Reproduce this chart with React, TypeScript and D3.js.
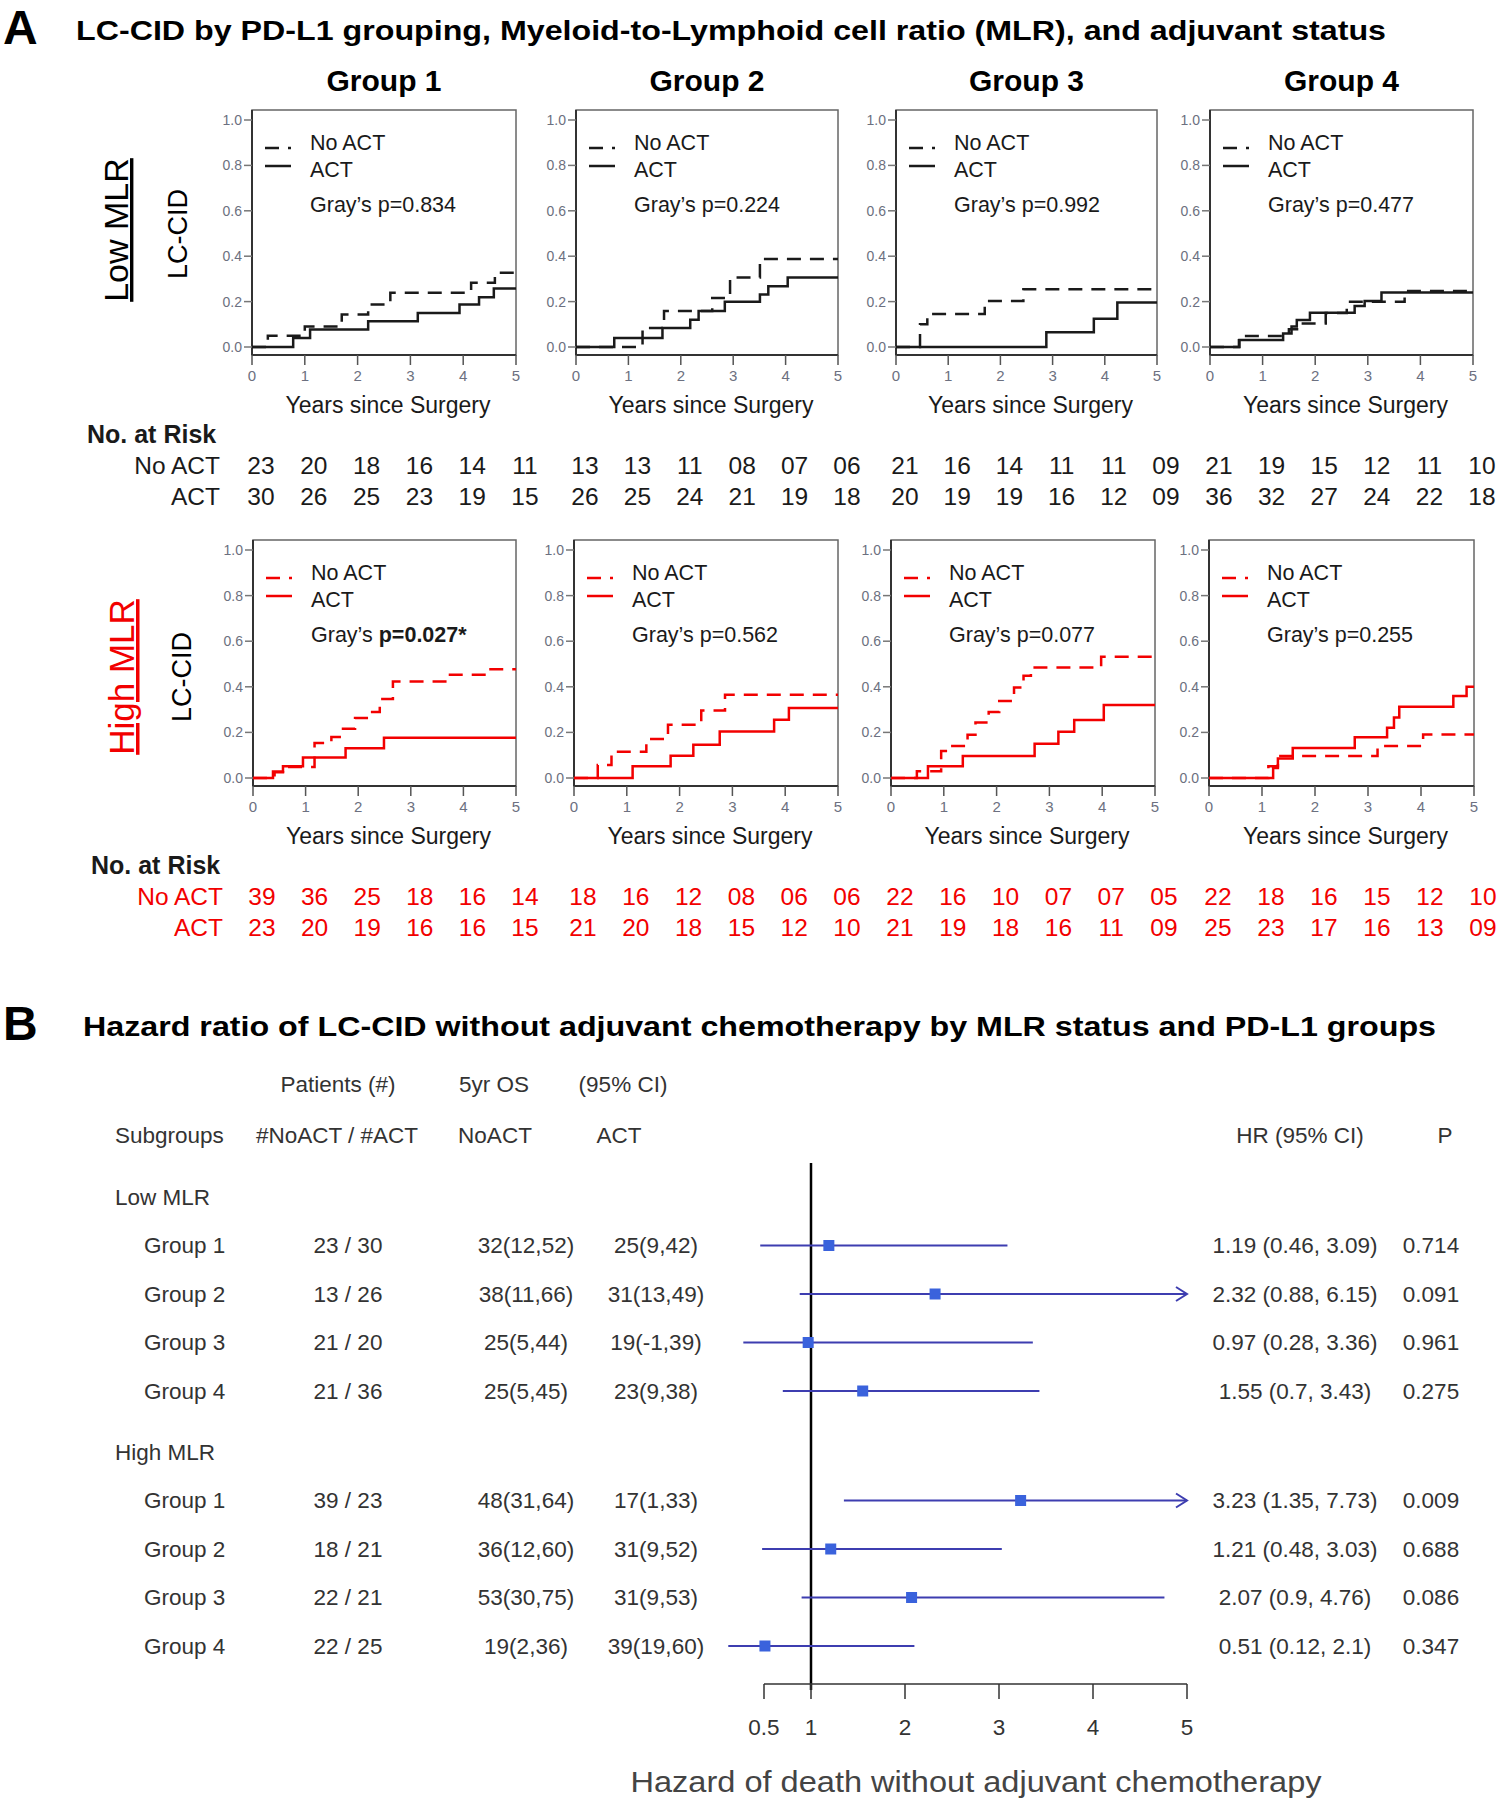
import * as d3 from 'd3';

type Pt = [number, number];

const FONT = '"Liberation Sans", Arial, Helvetica, sans-serif';
const RED = '#f20000';
const INK = '#1a1a1a';

const groups = ['Group 1', 'Group 2', 'Group 3', 'Group 4'];
const years = [0, 1, 2, 3, 4, 5];
const cidTicks = [0, 0.2, 0.4, 0.6, 0.8, 1.0];

// Low MLR: cumulative incidence [years, LC-CID]
const low1NoAct: Pt[] = [[0, 0], [0.3, 0.05], [1.0, 0.09], [1.7, 0.143], [2.2, 0.187], [2.62, 0.239], [4.15, 0.283], [4.6, 0.327], [5, 0.327]];
const low1Act: Pt[] = [[0, 0], [0.78, 0.04], [1.1, 0.077], [2.2, 0.113], [3.14, 0.15], [3.93, 0.187], [4.3, 0.219], [4.58, 0.258], [5, 0.258]];
const low2NoAct: Pt[] = [[0, 0], [1.27, 0.084], [1.68, 0.159], [2.6, 0.216], [2.94, 0.306], [3.51, 0.388], [5, 0.388]];
const low2Act: Pt[] = [[0, 0], [0.73, 0.04], [1.65, 0.084], [2.18, 0.12], [2.34, 0.159], [2.84, 0.199], [3.51, 0.231], [3.67, 0.268], [4.04, 0.306], [5, 0.306]];
const low3NoAct: Pt[] = [[0, 0], [0.46, 0.1], [0.6, 0.145], [1.7, 0.203], [2.44, 0.254], [5, 0.254]];
const low3Act: Pt[] = [[0, 0], [2.88, 0.065], [3.79, 0.124], [4.24, 0.196], [5, 0.196]];
const low4NoAct: Pt[] = [[0, 0], [0.55, 0.049], [1.5, 0.078], [1.7, 0.103], [2.2, 0.15], [2.6, 0.199], [3.7, 0.247], [5, 0.247]];
const low4Act: Pt[] = [[0, 0], [0.56, 0.031], [1.39, 0.059], [1.55, 0.09], [1.65, 0.119], [1.9, 0.151], [2.75, 0.181], [2.94, 0.203], [3.26, 0.24], [5, 0.24]];

// High MLR
const high1NoAct: Pt[] = [[0, 0], [0.41, 0.025], [0.57, 0.048], [1.17, 0.153], [1.49, 0.18], [1.68, 0.216], [1.94, 0.263], [2.2, 0.29], [2.41, 0.346], [2.66, 0.423], [3.68, 0.453], [4.44, 0.477], [5, 0.477]];
const high1Act: Pt[] = [[0, 0], [0.38, 0.029], [0.57, 0.051], [0.95, 0.09], [1.76, 0.131], [2.49, 0.177], [5, 0.177]];
const high2NoAct: Pt[] = [[0, 0], [0.45, 0.057], [0.71, 0.115], [1.37, 0.171], [1.78, 0.234], [2.41, 0.296], [2.86, 0.365], [5, 0.365]];
const high2Act: Pt[] = [[0, 0], [1.11, 0.051], [1.83, 0.098], [2.26, 0.146], [2.76, 0.204], [3.79, 0.255], [4.07, 0.307], [5, 0.307]];
const high3NoAct: Pt[] = [[0, 0], [0.49, 0.03], [0.95, 0.118], [1.08, 0.14], [1.45, 0.19], [1.6, 0.243], [1.85, 0.29], [2.05, 0.338], [2.33, 0.397], [2.51, 0.449], [2.65, 0.485], [3.98, 0.532], [5, 0.532]];
const high3Act: Pt[] = [[0, 0], [0.7, 0.051], [1.36, 0.096], [2.72, 0.15], [3.17, 0.203], [3.47, 0.254], [4.03, 0.32], [5, 0.32]];
const high4NoAct: Pt[] = [[0, 0], [1.12, 0.051], [1.3, 0.096], [3.18, 0.14], [4.04, 0.191], [5, 0.191]];
const high4Act: Pt[] = [[0, 0], [1.21, 0.044], [1.3, 0.085], [1.58, 0.132], [2.75, 0.179], [3.36, 0.22], [3.49, 0.265], [3.59, 0.313], [4.61, 0.36], [4.86, 0.4], [5, 0.4]];

const lowNoAct = [low1NoAct, low2NoAct, low3NoAct, low4NoAct];
const lowAct = [low1Act, low2Act, low3Act, low4Act];
const highNoAct = [high1NoAct, high2NoAct, high3NoAct, high4NoAct];
const highAct = [high1Act, high2Act, high3Act, high4Act];

const lowGrayP = ['0.834', '0.224', '0.992', '0.477'];
const highGrayP = ['0.027*', '0.562', '0.077', '0.255'];

// numbers at risk at years 0..5
const lowRiskNoAct = [
  ['23', '20', '18', '16', '14', '11'],
  ['13', '13', '11', '08', '07', '06'],
  ['21', '16', '14', '11', '11', '09'],
  ['21', '19', '15', '12', '11', '10'],
];
const lowRiskAct = [
  ['30', '26', '25', '23', '19', '15'],
  ['26', '25', '24', '21', '19', '18'],
  ['20', '19', '19', '16', '12', '09'],
  ['36', '32', '27', '24', '22', '18'],
];
const highRiskNoAct = [
  ['39', '36', '25', '18', '16', '14'],
  ['18', '16', '12', '08', '06', '06'],
  ['22', '16', '10', '07', '07', '05'],
  ['22', '18', '16', '15', '12', '10'],
];
const highRiskAct = [
  ['23', '20', '19', '16', '16', '15'],
  ['21', '20', '18', '15', '12', '10'],
  ['21', '19', '18', '16', '11', '09'],
  ['25', '23', '17', '16', '13', '09'],
];

// Forest plot (B)
const mlrSections = ['Low MLR', 'High MLR'];
const patients = [['23 / 30', '13 / 26', '21 / 20', '21 / 36'], ['39 / 23', '18 / 21', '22 / 21', '22 / 25']];
const osNoAct = [['32(12,52)', '38(11,66)', '25(5,44)', '25(5,45)'], ['48(31,64)', '36(12,60)', '53(30,75)', '19(2,36)']];
const osAct = [['25(9,42)', '31(13,49)', '19(-1,39)', '23(9,38)'], ['17(1,33)', '31(9,52)', '31(9,53)', '39(19,60)']];
const hr = [[1.19, 2.32, 0.97, 1.55], [3.23, 1.21, 2.07, 0.51]];
const hrLow = [[0.46, 0.88, 0.28, 0.7], [1.35, 0.48, 0.9, 0.12]];
const hrHigh = [[3.09, 6.15, 3.36, 3.43], [7.73, 3.03, 4.76, 2.1]];
const pVals = [['0.714', '0.091', '0.961', '0.275'], ['0.009', '0.688', '0.086', '0.347']];
const hrTicks = [0.5, 1, 2, 3, 4, 5];

const rowLayout = [
  { lefts: [252, 576, 896, 1210], rights: [516, 838, 1157, 1473], y1: 120, y0: 347 },
  { lefts: [253, 574, 891, 1209], rights: [516, 838, 1155, 1474], y1: 550, y0: 778 },
];

function CidPanel({ left, right, y1, y0, noAct, act, color, pValue, boldP }: any) {
  const x = d3.scaleLinear([0, 5], [left, right]);
  const y = d3.scaleLinear([0, 1], [y0, y1]);
  const line = d3.line<Pt>().x(d => x(d[0])).y(d => y(d[1])).curve(d3.curveStepAfter);
  const top = y1 - 10;
  const bottom = y0 + 8;
  const tickCol = '#6c7080';
  return (
    <g>
      <rect x={left} y={top} width={right - left} height={bottom - top} fill="none" stroke="#666" strokeWidth={1.5} />
      <line x1={left} x2={right} y1={bottom} y2={bottom} stroke="#333" strokeWidth={2} />
      <line x1={left} x2={left} y1={top} y2={bottom} stroke="#333" strokeWidth={2} />
      {cidTicks.map(v => (
        <g key={v}>
          <line x1={left - 8} x2={left} y1={y(v)} y2={y(v)} stroke="#777" strokeWidth={1.5} />
          <text x={left - 10} y={y(v)} dy="0.35em" textAnchor="end" fontSize={14} fill={tickCol}>{v.toFixed(1)}</text>
        </g>
      ))}
      {years.map(t => (
        <g key={t}>
          <line x1={x(t)} x2={x(t)} y1={bottom} y2={bottom + 10} stroke="#555" strokeWidth={1.5} />
          <text x={x(t)} y={bottom + 21} dy="0.35em" textAnchor="middle" fontSize={15} fill={tickCol}>{t}</text>
        </g>
      ))}
      <path d={line(noAct) ?? ''} fill="none" stroke={color} strokeWidth={2.5} strokeDasharray="14 9" />
      <path d={line(act) ?? ''} fill="none" stroke={color} strokeWidth={2.5} />
      <line x1={left + 13} x2={left + 39} y1={y1 + 28} y2={y1 + 28} stroke={color} strokeWidth={2.5} strokeDasharray="14 9" />
      <line x1={left + 13} x2={left + 39} y1={y1 + 46} y2={y1 + 46} stroke={color} strokeWidth={2.5} />
      <text x={left + 58} y={y1 + 22} dy="0.35em" fontSize={21.5} fill={INK}>No ACT</text>
      <text x={left + 58} y={y1 + 49} dy="0.35em" fontSize={21.5} fill={INK}>ACT</text>
      <text x={left + 58} y={y1 + 84} dy="0.35em" fontSize={21.5} fill={INK}>
        Gray’s{' '}
        <tspan fontWeight={boldP ? 'bold' : 'normal'}>p={pValue}</tspan>
      </text>
      <text x={(left + right) / 2 + 4} y={y0 + 58} dy="0.35em" textAnchor="middle" fontSize={23} fill={INK}>Years since Surgery</text>
    </g>
  );
}

function RiskRows({ row, noAct, act, color, labelX }: any) {
  const lay = rowLayout[row];
  const yTitle = lay.y0 + 87;
  const yNo = lay.y0 + 118;
  const yAct = lay.y0 + 149;
  return (
    <g fill={color} fontSize={24.5}>
      <text x={row === 0 ? 87 : 91} y={yTitle} dy="0.35em" fontSize={25} fontWeight="bold" fill={INK}>No. at Risk</text>
      <text x={labelX} y={yNo} dy="0.35em" textAnchor="end">No ACT</text>
      <text x={labelX} y={yAct} dy="0.35em" textAnchor="end">ACT</text>
      {groups.map((g, gi) => {
        const x = d3.scaleLinear([0, 5], [lay.lefts[gi], lay.rights[gi]]);
        return (
          <g key={g}>
            {years.map((t, i) => (
              <g key={t}>
                <text x={x(t) + 9} y={yNo} dy="0.35em" textAnchor="middle">{noAct[gi][i]}</text>
                <text x={x(t) + 9} y={yAct} dy="0.35em" textAnchor="middle">{act[gi][i]}</text>
              </g>
            ))}
          </g>
        );
      })}
    </g>
  );
}

function Forest() {
  const hx = d3.scaleLinear([0.5, 5], [764, 1187]);
  const sectionTop = [1197, 1452];
  const rowY = (s: number, i: number) => sectionTop[s] + 48.5 * (i + 1);
  const txt = '#333';
  const fs = 22.5;
  const ciCol = '#3d3db0';
  return (
    <g fontSize={fs} fill={txt}>
      <text x={338} y={1084} dy="0.35em" textAnchor="middle">Patients (#)</text>
      <text x={494} y={1084} dy="0.35em" textAnchor="middle">5yr OS</text>
      <text x={623} y={1084} dy="0.35em" textAnchor="middle">(95% CI)</text>
      <text x={115} y={1135} dy="0.35em">Subgroups</text>
      <text x={337} y={1135} dy="0.35em" textAnchor="middle">#NoACT / #ACT</text>
      <text x={495} y={1135} dy="0.35em" textAnchor="middle">NoACT</text>
      <text x={619} y={1135} dy="0.35em" textAnchor="middle">ACT</text>
      <text x={1300} y={1135} dy="0.35em" textAnchor="middle">HR (95% CI)</text>
      <text x={1445} y={1135} dy="0.35em" textAnchor="middle">P</text>

      <line x1={hx(1)} x2={hx(1)} y1={1163} y2={1690} stroke="#000" strokeWidth={2.5} />
      <line x1={hx(0.5)} x2={hx(5)} y1={1684} y2={1684} stroke="#333" strokeWidth={1.5} />
      {hrTicks.map(t => (
        <g key={t}>
          <line x1={hx(t)} x2={hx(t)} y1={1684} y2={1699} stroke="#333" strokeWidth={1.5} />
          <text x={hx(t)} y={1727} dy="0.35em" textAnchor="middle">{t}</text>
        </g>
      ))}
      <text x={976} y={1782} dy="0.35em" textAnchor="middle" fontSize={29} fill="#444" textLength={691} lengthAdjust="spacingAndGlyphs">
        Hazard of death without adjuvant chemotherapy
      </text>

      {mlrSections.map((sec, s) => (
        <g key={sec}>
          <text x={115} y={sectionTop[s]} dy="0.35em">{sec}</text>
          {groups.map((g, i) => {
            const y = rowY(s, i);
            const hiClip = Math.min(hrHigh[s][i], 5);
            return (
              <g key={g}>
                <text x={144} y={y} dy="0.35em">{g}</text>
                <text x={348} y={y} dy="0.35em" textAnchor="middle">{patients[s][i]}</text>
                <text x={526} y={y} dy="0.35em" textAnchor="middle">{osNoAct[s][i]}</text>
                <text x={656} y={y} dy="0.35em" textAnchor="middle">{osAct[s][i]}</text>
                <text x={1295} y={y} dy="0.35em" textAnchor="middle">{`${hr[s][i]} (${hrLow[s][i]}, ${hrHigh[s][i]})`}</text>
                <text x={1431} y={y} dy="0.35em" textAnchor="middle">{pVals[s][i]}</text>
                <line x1={hx(hrLow[s][i])} x2={hx(hiClip)} y1={y} y2={y} stroke={ciCol} strokeWidth={2} />
                {hrHigh[s][i] > 5 && (
                  <path d={`M${hx(5) - 11},${y - 7}L${hx(5)},${y}L${hx(5) - 11},${y + 7}`} fill="none" stroke={ciCol} strokeWidth={2} />
                )}
                <rect x={hx(hr[s][i]) - 5.5} y={y - 5.5} width={11} height={11} fill="#3a62dc" />
              </g>
            );
          })}
        </g>
      ))}
    </g>
  );
}

export default function App() {
  return (
    <svg width={1500} height={1801} viewBox="0 0 1500 1801" style={{ position: 'absolute', left: 0, top: 0, background: '#fff' }} fontFamily={FONT}>
      <rect width={1500} height={1801} fill="#fff" />
      <text x={3} y={44} fontSize={48} fontWeight="bold" fill="#000">A</text>
      <text x={76} y={40} fontSize={27} fontWeight="bold" fill="#000" textLength={1310} lengthAdjust="spacingAndGlyphs">
        LC-CID by PD-L1 grouping, Myeloid-to-Lymphoid cell ratio (MLR), and adjuvant status
      </text>
      {groups.map((g, i) => (
        <text key={g} x={(rowLayout[0].lefts[i] + rowLayout[0].rights[i]) / 2} y={91} fontSize={30} fontWeight="bold" textAnchor="middle" fill="#000">{g}</text>
      ))}

      <text transform="translate(128,230) rotate(-90)" textAnchor="middle" fontSize={34} textDecoration="underline" fill="#000">Low MLR</text>
      <text transform="translate(187,234) rotate(-90)" textAnchor="middle" fontSize={27} fill="#000">LC-CID</text>
      <text transform="translate(134,677) rotate(-90)" textAnchor="middle" fontSize={35} textDecoration="underline" fill={RED}>High MLR</text>
      <text transform="translate(191,677) rotate(-90)" textAnchor="middle" fontSize={27} fill="#000">LC-CID</text>

      {groups.map((g, i) => (
        <CidPanel key={'low' + g} left={rowLayout[0].lefts[i]} right={rowLayout[0].rights[i]} y1={rowLayout[0].y1} y0={rowLayout[0].y0}
          noAct={lowNoAct[i]} act={lowAct[i]} color={INK} pValue={lowGrayP[i]} boldP={false} />
      ))}
      <RiskRows row={0} noAct={lowRiskNoAct} act={lowRiskAct} color={INK} labelX={220} />

      {groups.map((g, i) => (
        <CidPanel key={'high' + g} left={rowLayout[1].lefts[i]} right={rowLayout[1].rights[i]} y1={rowLayout[1].y1} y0={rowLayout[1].y0}
          noAct={highNoAct[i]} act={highAct[i]} color={RED} pValue={highGrayP[i]} boldP={i === 0} />
      ))}
      <RiskRows row={1} noAct={highRiskNoAct} act={highRiskAct} color={RED} labelX={223} />

      <text x={3} y={1040} fontSize={48} fontWeight="bold" fill="#000">B</text>
      <text x={83} y={1036} fontSize={27} fontWeight="bold" fill="#000" textLength={1353} lengthAdjust="spacingAndGlyphs">
        Hazard ratio of LC-CID without adjuvant chemotherapy by MLR status and PD-L1 groups
      </text>
      <Forest />
    </svg>
  );
}
